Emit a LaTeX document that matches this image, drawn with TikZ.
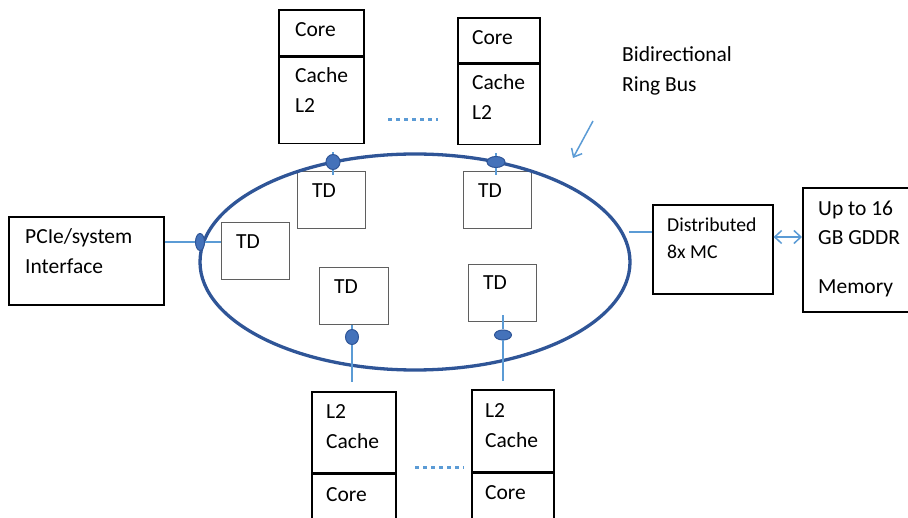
\documentclass[tikz,border=0pt]{standalone}
\usepackage{fontspec}
\setmainfont{Carlito}
\usetikzlibrary{arrows.meta,shapes.geometric}

\definecolor{ringblue}{RGB}{47,85,151}
\definecolor{linkblue}{RGB}{91,155,213}
\definecolor{blobblue}{RGB}{68,114,186}
\definecolor{tdgray}{RGB}{95,95,95}

\tikzset{
  blk/.style={draw, line width=1.6pt, anchor=north west, inner sep=0pt},
  tdbox/.style={draw=tdgray, line width=1.2pt, anchor=north west, inner sep=0pt,
                minimum width=68pt, minimum height=57pt},
  txt/.style={anchor=base west, inner sep=0pt, align=left,
              font=\fontsize{21.5}{29.5}\selectfont},
  link/.style={draw=linkblue, line width=1.5pt},
  blob/.style={ellipse, draw=ringblue, fill=blobblue, line width=1pt, inner sep=0pt},
  dots/.style={draw=linkblue, line width=3pt, dash pattern=on 4pt off 4pt},
  ring/.style={draw=ringblue, line width=3.3pt}
}

\begin{document}
\begin{tikzpicture}[x=1pt, y=-1pt]
    \useasboundingbox (0,0) rectangle (908,518);

    % cores on top
    \node[blk, minimum width=85pt, minimum height=46pt] (coreA)  at (278,9)  {};
    \node[blk, minimum width=85pt, minimum height=86pt] (cacheA) at (coreA.south west) {};
    \node[blk, minimum width=82pt, minimum height=45pt] (coreB)  at (457,17) {};
    \node[blk, minimum width=82pt, minimum height=80pt] (cacheB) at (coreB.south west) {};
    \node[txt] (coreAt)  at (295,36.5)  {Core};
    \node[txt] (cacheAt) at (295,112.5) {Cache\\L2};
    \node[txt] (coreBt)  at (472,44.5)  {Core};
    \node[txt] (cacheBt) at (472,119.5) {Cache\\L2};

    % cores below
    \node[blk, minimum width=84pt, minimum height=81pt] (cacheC) at (311,391) {};
    \node[blk, minimum width=84pt, minimum height=60pt] (coreC)  at (cacheC.south west) {};
    \node[blk, minimum width=82pt, minimum height=82pt] (cacheD) at (471,389) {};
    \node[blk, minimum width=82pt, minimum height=60pt] (coreD)  at (cacheD.south west) {};
    \node[txt] (cacheCt) at (326,448.5) {L2\\Cache};
    \node[txt] (coreCt)  at (326,501.5) {Core};
    \node[txt] (cacheDt) at (485,447.5) {L2\\Cache};
    \node[txt] (coreDt)  at (485,499.5) {Core};

    % dots between cores
    \coordinate (dotsA1) at (388,120);
    \coordinate (dotsA2) at (438,120);
    \coordinate (dotsC1) at (415,468);
    \coordinate (dotsC2) at (464,468);
    \draw[dots] (dotsA1) -- (dotsA2);
    \draw[dots] (dotsC1) -- (dotsC2);

    % tag directories
    \node[tdbox] (tdA) at (297,171) {};
    \node[tdbox] (tdB) at (463,171) {};
    \node[tdbox] (tdL) at (221,222) {};
    \node[tdbox, minimum width=69pt] (tdC) at (319,267) {};
    \node[tdbox] (tdD) at (468,264) {};
    \node[txt] (tdAt) at (312,197.5) {TD};
    \node[txt] (tdBt) at (478,197.5) {TD};
    \node[txt] (tdLt) at (236,248.5) {TD};
    \node[txt] (tdCt) at (334,293.5) {TD};
    \node[txt] (tdDt) at (483,289.5) {TD};

    % ring
    \draw[ring] (415,262) ellipse [x radius=215, y radius=108];

    % interface and memory
    \node[blk, minimum width=155pt, minimum height=88pt]  (pcie) at (8,216)   {};
    \node[blk, minimum width=120pt, minimum height=89pt]  (mc)   at (652,204) {};
    \node[blk, minimum width=118pt, minimum height=124pt] (mem)  at (802,187) {};
    \node[txt] (pciet) at (25,273.5)  {PCIe/system\\Interface};
    \node[txt, font=\fontsize{19.7}{27}\selectfont] (mct) at (667,258.5) {Distributed\\8x MC};
    \node[txt] (memt)  at (818,293.5) {Up to 16\\GB GDDR\\[19pt]Memory};

    % stops on the ring
    \node[blob, minimum width=14pt, minimum height=15pt] (blobA) at (333,162) {};
    \node[blob, minimum width=18pt, minimum height=11pt] (blobB) at (496,162) {};
    \node[blob, minimum width=9pt,  minimum height=17pt] (blobL) at (200,242) {};
    \node[blob, minimum width=13pt, minimum height=15pt] (blobC) at (352,337) {};
    \node[blob, minimum width=17pt, minimum height=10pt] (blobD) at (503,335) {};

    \draw[link] ([yshift=-8pt]cacheA.south -| blobA) -- (blobA) -- ([yshift=-4pt]tdA.north -| blobA);
    \draw[link] ([yshift=-8pt]cacheB.south -| blobB) -- (blobB) -- ([yshift=-4pt]tdB.north -| blobB);
    \draw[link] (pcie.east |- blobL) -- (blobL) -- (tdL.west |- blobL);
    \draw[link] (tdC.south -| blobC) -- (blobC) -- ([yshift=9pt]cacheC.north -| blobC);
    \draw[link] ([yshift=7pt]tdD.south -| blobD) -- (blobD) -- ([yshift=8pt]cacheD.north -| blobD);

    % memory controller
    \coordinate (ringE) at (629,232);
    \draw[link] (ringE) -- (ringE -| mc.west);
    \coordinate (memArr) at (773,237);
    \draw[link, {Straight Barb[length=7pt,width=13pt]}-{Straight Barb[length=7pt,width=13pt]}]
        (memArr -| mc.east) -- (memArr -| mem.west);

    % ring label
    \node[txt] (busLbl) at (622,91.5) {Bidirectional\\Ring Bus};
    \coordinate (busTail) at (593,121);
    \coordinate (busHead) at (573,158);
    \draw[link, -{Straight Barb[length=7pt,width=12pt]}] (busTail) -- (busHead);
\end{tikzpicture}
\end{document}
